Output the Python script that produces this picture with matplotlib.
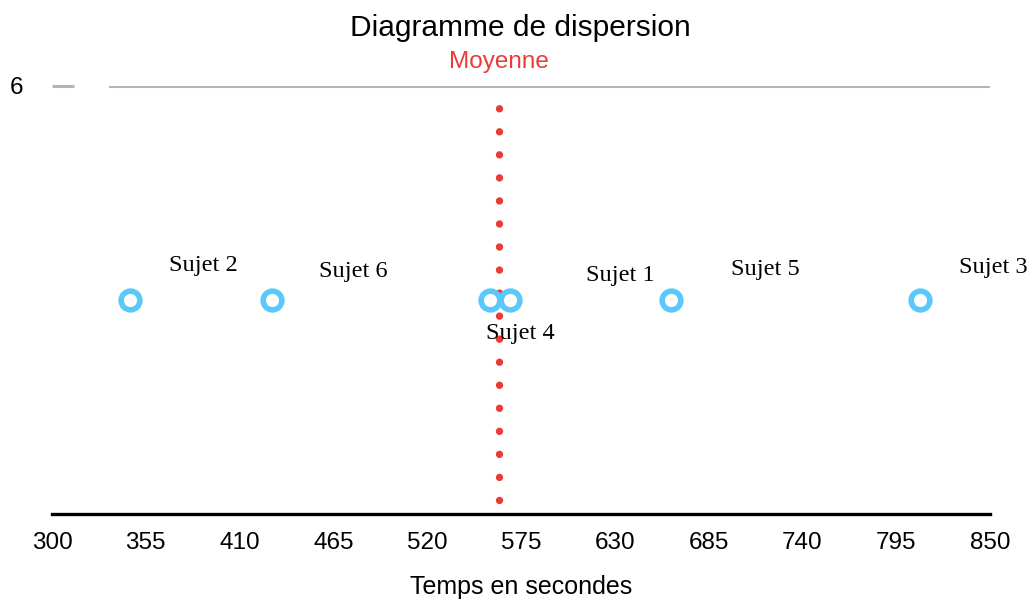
import numpy as np
import matplotlib
matplotlib.use("Agg")
import matplotlib.pyplot as plt

# temps (s) de chaque sujet
sujets = ["Sujet 1", "Sujet 2", "Sujet 3", "Sujet 4", "Sujet 5", "Sujet 6"]
temps = [663, 346, 809, 568.5, 557, 429]
niveau = [3, 3, 3, 3, 3, 3]
# decalage des etiquettes (pixels) par rapport au point
decal_x = [-51, 73, 73, 10, 275, 81]
decal_y = [25, 34, 32, -33, 31, 29]

xticks = [300, 355, 410, 465, 520, 575, 630, 685, 740, 795, 850]
yticks = [6]

bleu = "#5ac8fa"
rouge = "#ec3a36"
sans = "Liberation Sans"
serif = "Liberation Serif"

fig = plt.figure(figsize=(10.33, 6.03), dpi=100)
ax = fig.add_axes([52 / 1033, 1 - 514 / 603, 938 / 1033, 428 / 603])

moyenne = np.mean(temps)

# ligne de la moyenne en pointilles
ax.plot([moyenne, moyenne], [0.2, 5.72], color=rouge, lw=5.3,
        linestyle=(0, (0.01, 3.12)), dash_capstyle="round", zorder=2)

ax.plot(temps, niveau, "o", ms=13.5, mfc="white", mec=bleu, mew=4,
        zorder=3, clip_on=False)

px = 0.72
for nom, t, n, dx, dy in zip(sujets, temps, niveau, decal_x, decal_y):
    ax.annotate(nom, (t, n), xytext=(dx * px, dy * px), textcoords="offset points",
                ha="center", va="center", fontsize=17.5, family=serif, zorder=4)

ax.axhline(6, xmin=58 / 938, xmax=1, color="#b4b4b4", lw=2.2, zorder=1)

ax.set_xlim(300, 850)
ax.set_ylim(0, 6)
ax.set_xticks(xticks)
ax.set_yticks(yticks)
for lab in ax.get_xticklabels() + ax.get_yticklabels():
    lab.set_family(sans)
ax.tick_params(axis="x", length=0, pad=13, labelsize=17.5)
ax.tick_params(axis="y", direction="in", length=16, width=2.2, color="#b4b4b4",
               pad=21, labelsize=17.5)

for s in ["top", "right", "left"]:
    ax.spines[s].set_visible(False)
ax.spines["bottom"].set_linewidth(2.4)
ax.spines["bottom"].set_color("black")

ax.set_xlabel("Temps en secondes", fontsize=18, family=sans, labelpad=15)
ax.text(moyenne, 6.33, "Moyenne", color=rouge, fontsize=17.5, family=sans,
        ha="center", va="center")
fig.text(520 / 1033, 1 - 28 / 603, "Diagramme de dispersion", fontsize=21.5,
         family=sans, ha="center", va="center")

fig.savefig("out.png", dpi=100)
